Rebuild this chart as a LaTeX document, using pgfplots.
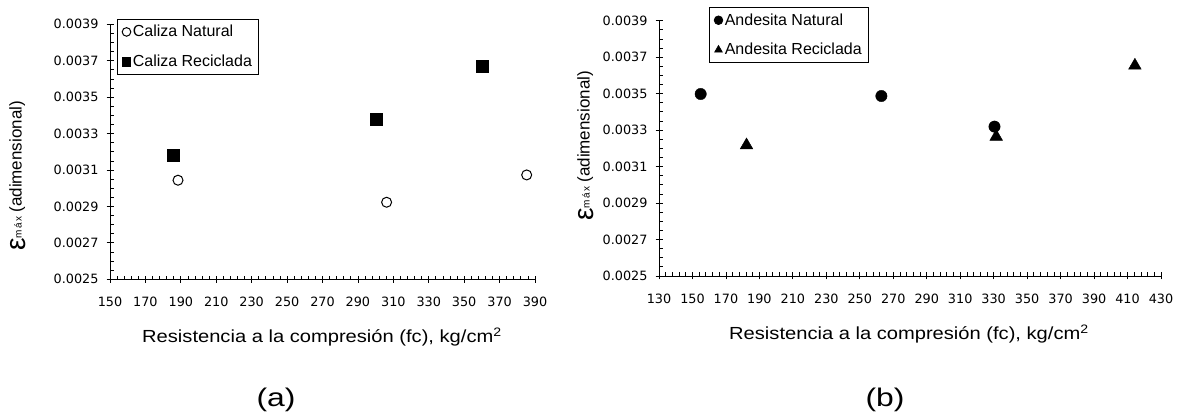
\documentclass[border=0pt]{standalone}
\usepackage{fontspec}
\setmainfont{Liberation Sans}
\newfontfamily\tickfam{DejaVu Sans}
\usepackage{graphicx}
\usepackage{pgfplots}
\pgfplotsset{compat=1.18}

\pgfplotstableread{
x y
188.4 0.003044
306.2 0.002923
385.3 0.003073
}\calizaNat
\pgfplotstableread{
x y
185.6 0.003181
300.2 0.003378
360.2 0.003669
}\calizaRec
\pgfplotstableread{
x y
154.9 0.003498
262.9 0.003487
330.5 0.003319
}\andesitaNat
\pgfplotstableread{
x y
182.3 0.003217
331.5 0.003264
414.4 0.003654
}\andesitaRec

\newcommand{\ylab}{\raisebox{-4bp}{\fontsize{28bp}{28bp}\selectfont ε}{\fontsize{10bp}{10bp}\selectfont m\kern1.5bp á\kern1.5bp x}\hspace{4bp}{\fontsize{17bp}{20bp}\selectfont (adimensional)}}
\newcommand{\xlab}{\scalebox{1.15}[1]{\fontsize{17.5bp}{20bp}\selectfont Resistencia a la compresión (fc), kg/cm\textsuperscript{2}}}

\pgfplotsset{
  legend image code/.code={\draw[#1, mark size=4.3bp] plot coordinates {(0bp,0bp)};},
  panel/.style={
    scale only axis, anchor=south west,
    axis lines=left, axis line style={-, line width=0.8bp, black},
    tick align=inside, major tick length=7bp, minor tick length=3.5bp,
    tick style={line width=0.8bp, black},
    every major x tick/.append style={yshift=-3.5bp},
    every major y tick/.append style={xshift=-3.5bp},
    minor x tick num=4, minor y tick num=3,
    ymin=0.0025, ymax=0.0039,
    ytick={0.0025,0.0027,0.0029,0.0031,0.0033,0.0035,0.0037,0.0039},
    scaled y ticks=false,
    /pgf/number format/assume math mode=true,
    tick label style={font=\tickfam\fontsize{12.8bp}{13bp}\selectfont},
    xticklabel style={yshift=-14.4bp, /pgf/number format/.cd, fixed, precision=0, assume math mode=true},
    yticklabel style={xshift=-8bp, /pgf/number format/.cd, fixed, fixed zerofill, precision=4, assume math mode=true},
    legend cell align=left,
    legend style={font=\fontsize{16bp}{18bp}\selectfont, draw=black, line width=0.8bp,
      anchor=north west, inner xsep=4.5bp, inner ysep=4bp, row sep=12.6bp,
      /tikz/every even column/.append style={column sep=3bp}},
  },
}

\begin{document}
\begin{tikzpicture}
\useasboundingbox (0,0) rectangle (1184bp,417bp);

\begin{axis}[panel, at={(110bp,137.7bp)}, width=425bp, height=255bp,
  xmin=150, xmax=390, xtick={150,170,190,210,230,250,270,290,310,330,350,370,390},
  legend style={at={(axis description cs:0.0172,1.0208)}}]
\addplot[only marks, mark=*, mark size=5bp, mark options={fill=white, draw=black, line width=1bp}] table {\calizaNat};
\addlegendentry{Caliza Natural}
\addplot[only marks, mark=square*, mark size=6bp, mark options={fill=black, draw=black}] table {\calizaRec};
\addlegendentry{Caliza Reciclada}
\end{axis}

\begin{axis}[panel, at={(659bp,141bp)}, width=502bp, height=255.3bp,
  xmin=130, xmax=430, xtick={130,150,170,190,210,230,250,270,290,310,330,350,370,390,410,430},
  legend style={at={(axis description cs:0.1002,1.0525)}}]
\addplot[only marks, mark=*, mark size=5.7bp, mark options={fill=black, draw=black}] table {\andesitaNat};
\addlegendentry{Andesita Natural}
\addplot[only marks, mark=triangle*, mark size=7.3bp, mark options={fill=black, draw=black}] table {\andesitaRec};
\addlegendentry{Andesita Reciclada}
\end{axis}

% axis titles
\node[rotate=90, anchor=center] at (17.5bp,241bp) {\ylab};
\node[rotate=90, anchor=center] at (585.5bp,271bp) {\ylab};
\node[anchor=base, inner sep=0pt] at (322bp,74bp) {\xlab};
\node[anchor=base, inner sep=0pt] at (909bp,77bp) {\xlab};
\node[anchor=base, inner sep=0pt, font=\fontsize{25.5bp}{28bp}\selectfont] at (276bp,10.5bp) {\scalebox{1.25}[1]{(a)}};
\node[anchor=base, inner sep=0pt, font=\fontsize{25.5bp}{28bp}\selectfont] at (885bp,10.5bp) {\scalebox{1.25}[1]{(b)}};
\end{tikzpicture}
\end{document}
